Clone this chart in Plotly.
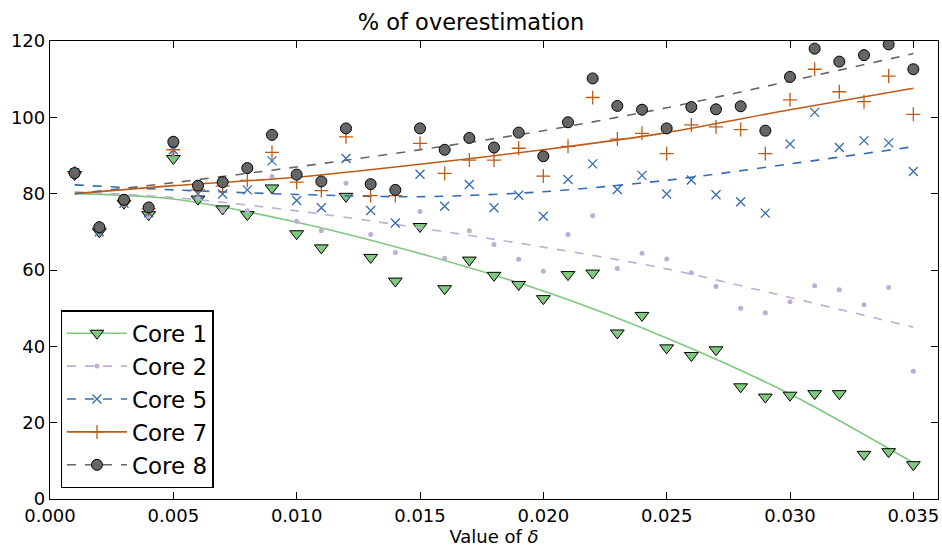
import plotly.graph_objects as go

delta = [0.001, 0.002, 0.003, 0.004, 0.005, 0.006, 0.007, 0.008, 0.009, 0.010,
         0.011, 0.012, 0.013, 0.014, 0.015, 0.016, 0.017, 0.018, 0.019, 0.020,
         0.021, 0.022, 0.023, 0.024, 0.025, 0.026, 0.027, 0.028, 0.029, 0.030,
         0.031, 0.032, 0.033, 0.034, 0.035]

core1 = [85.0, 70.0, 77.5, 74.5, 89.2, 78.6, 76.0, 74.5, 81.5, 69.5,
         65.8, 79.3, 63.3, 57.1, 71.4, 55.1, 62.6, 58.6, 56.2, 52.5,
         58.8, 59.2, 43.5, 48.1, 39.6, 37.6, 39.1, 29.4, 26.7, 27.2,
         27.6, 27.6, 11.7, 12.4, 9.0]
core2 = [85.0, 69.8, 77.0, 74.0, 90.5, 79.0, 75.6, 75.5, 84.5, 72.8,
         70.3, 82.7, 69.3, 64.6, 75.3, 63.1, 70.3, 66.7, 62.8, 59.7,
         69.3, 74.2, 60.4, 64.4, 62.9, 59.3, 55.7, 50.0, 48.8, 51.7,
         55.9, 54.8, 50.9, 55.4, 33.5]
core5 = [85.5, 70.0, 77.5, 75.0, 91.5, 79.9, 79.9, 81.0, 88.6, 78.2,
         76.3, 89.2, 75.6, 72.3, 85.1, 76.7, 82.4, 76.3, 79.6, 74.1,
         83.7, 87.8, 81.1, 84.8, 79.9, 83.6, 79.7, 77.9, 74.9, 93.0,
         101.3, 92.1, 93.9, 93.3, 85.8]
core7 = [85.5, 71.0, 78.0, 76.0, 91.5, 81.0, 82.0, 83.5, 90.8, 83.0,
         80.8, 94.9, 79.5, 79.5, 93.2, 85.3, 88.8, 88.8, 91.9, 84.6,
         92.4, 105.2, 94.3, 95.8, 90.5, 98.0, 97.5, 96.8, 90.5, 104.6,
         112.6, 106.7, 104.1, 110.8, 100.8]
core8 = [85.4, 71.2, 78.4, 76.4, 93.6, 82.1, 83.0, 86.7, 95.4, 85.0,
         83.2, 97.1, 82.5, 81.0, 97.1, 91.5, 94.6, 92.1, 96.0, 89.8,
         98.7, 110.2, 103.0, 102.0, 97.1, 102.7, 102.1, 102.9, 96.5, 110.6,
         118.0, 114.6, 116.3, 119.1, 112.6]

# fitted trend curves
fit_x = [0.001, 0.005, 0.010, 0.015, 0.020, 0.025, 0.030, 0.035]
fit1 = [80.0, 78.6, 72.5, 64.3, 54.5, 42.2, 27.5, 9.5]
fit2 = [80.5, 79.0, 75.5, 71.0, 66.0, 60.3, 52.8, 45.0]
fit5 = [82.3, 81.0, 79.8, 79.2, 80.5, 83.5, 87.8, 92.3]
fit7 = [80.0, 82.1, 84.3, 87.7, 91.5, 96.0, 102.0, 107.6]
fit8 = [80.0, 82.9, 87.0, 91.5, 96.5, 102.5, 109.5, 116.7]

names = ["Core 1", "Core 2", "Core 5", "Core 7", "Core 8"]
colors = ["#7fc97f", "#beaed4", "#386cb0", "#bf5b17", "#666666"]
dashes = ["solid", "9px,9px", "9px,9px", "solid", "9px,9px"]
values = [core1, core2, core5, core7, core8]
fits = [fit1, fit2, fit5, fit7, fit8]
markers = [
    dict(symbol="triangle-down", size=12, color="#7fc97f", line=dict(color="black", width=1)),
    dict(symbol="circle", size=5, color="#beaed4", line=dict(width=0)),
    dict(symbol="x-thin", size=9, color="#386cb0", line=dict(color="#386cb0", width=1.3)),
    dict(symbol="cross-thin", size=10, color="#bf5b17", line=dict(color="#bf5b17", width=1.3)),
    dict(symbol="circle", size=11, color="#666666", line=dict(color="black", width=1)),
]

fig = go.Figure()
for name, col, dash, vals, fit, mk in zip(names, colors, dashes, values, fits, markers):
    fig.add_trace(go.Scatter(x=fit_x, y=fit, mode="lines",
                             line=dict(color=col, width=1.6, dash=dash, shape="spline", smoothing=0.8),
                             showlegend=False, hoverinfo="skip"))
    fig.add_trace(go.Scatter(x=delta, y=vals, mode="markers", marker=mk, showlegend=False, name=name))
    fig.add_trace(go.Scatter(x=[None], y=[None], mode="lines+markers", name=name,
                             line=dict(color=col, width=1.6, dash=dash), marker=mk))

axis_common = dict(showline=True, linecolor="black", linewidth=1.3, mirror="ticks",
                   ticks="inside", ticklen=7, tickwidth=1, tickcolor="black",
                   showgrid=False, zeroline=False,
                   tickfont=dict(family="DejaVu Sans", size=18, color="black"))

fig.update_layout(
    width=942, height=548,
    margin=dict(l=50, r=4, t=41, b=49),
    paper_bgcolor="white", plot_bgcolor="white",
    title=dict(text="% of overestimation", x=0.5, xanchor="center", y=0.96, yanchor="middle",
               font=dict(family="DejaVu Sans", size=22.5, color="black")),
    xaxis=dict(range=[0, 0.036], dtick=0.005, tick0=0, tickformat=".3f",
               title=dict(text="Value of <i>δ</i>", standoff=2,
                          font=dict(family="DejaVu Sans", size=18, color="black")),
               **axis_common),
    yaxis=dict(range=[0, 120], dtick=20, tick0=0, **axis_common),
    legend=dict(x=0.012, y=0.023, xanchor="left", yanchor="bottom",
                bgcolor="white", bordercolor="black", borderwidth=1.3,
                font=dict(family="DejaVu Sans", size=23, color="black"),
                itemwidth=60),
    showlegend=True,
)

fig.write_html("out.html", config={"displayModeBar": False},
               post_script="document.body.style.margin='0';document.body.style.overflow='hidden';")
